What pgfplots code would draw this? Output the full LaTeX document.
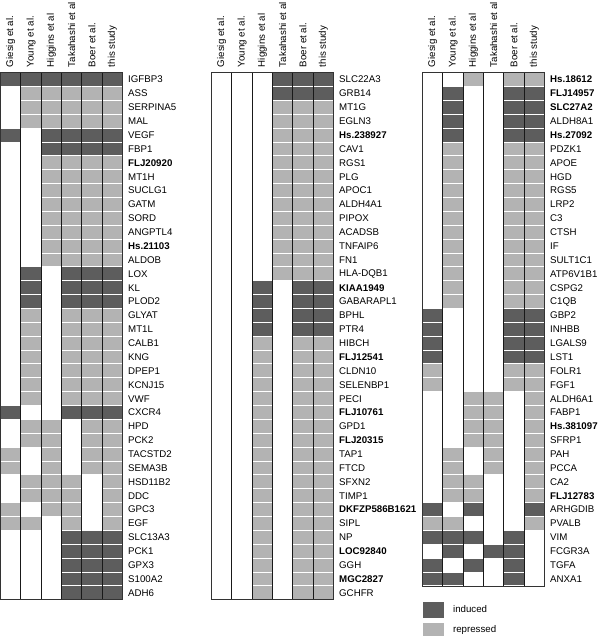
\documentclass[border=0pt]{standalone}
\usepackage{fontspec}
\setmainfont{Liberation Sans}
\usepackage{pgfplots}
\usepackage{pgfplotstable}
\pgfplotsset{compat=1.18}

\definecolor{dk}{RGB}{93,93,93}
\definecolor{lt}{RGB}{179,179,179}

% one cell of the grid: 6 columns of 20.33pt, rows of 13.87pt,
% a little narrower/shorter so the column lines and row gaps stay visible
\pgfdeclareplotmark{cell}{%
  \pgfpathrectangle{\pgfpoint{-9.75pt}{-6.43pt}}{\pgfpoint{19.5pt}{12.87pt}}%
  \pgfusepathqfill}

% 0 = not reported, 1 = induced, 2 = repressed
\pgfplotstableread{
gene G Y H T B S
IGFBP3 1 1 1 1 1 1
ASS 0 2 2 2 2 2
SERPINA5 0 2 2 2 2 2
MAL 0 2 2 2 2 2
VEGF 1 0 1 1 1 1
FBP1 0 0 1 1 1 1
\textbf{FLJ20920} 0 0 2 2 2 2
MT1H 0 0 2 2 2 2
SUCLG1 0 0 2 2 2 2
GATM 0 0 2 2 2 2
SORD 0 0 2 2 2 2
ANGPTL4 0 0 2 2 2 2
\textbf{Hs.21103} 0 0 2 2 2 2
ALDOB 0 0 2 2 2 2
LOX 0 1 0 1 1 1
KL 0 1 0 1 1 1
PLOD2 0 1 0 1 1 1
GLYAT 0 2 0 2 2 2
MT1L 0 2 0 2 2 2
CALB1 0 2 0 2 2 2
KNG 0 2 0 2 2 2
DPEP1 0 2 0 2 2 2
KCNJ15 0 2 0 2 2 2
VWF 0 2 0 2 2 2
CXCR4 1 0 0 1 1 1
HPD 0 2 2 0 2 2
PCK2 0 2 2 0 2 2
TACSTD2 2 0 2 0 2 2
SEMA3B 2 0 2 0 2 2
HSD11B2 0 2 2 2 0 2
DDC 0 2 2 2 0 2
GPC3 2 0 2 2 0 2
EGF 2 2 0 2 0 2
SLC13A3 0 0 0 1 1 1
PCK1 0 0 0 1 1 1
GPX3 0 0 0 1 1 1
S100A2 0 0 0 1 1 1
ADH6 0 0 0 1 1 1
}\tabA

\pgfplotstableread{
gene G Y H T B S
SLC22A3 0 0 0 1 1 1
GRB14 0 0 0 1 1 1
MT1G 0 0 0 2 2 2
EGLN3 0 0 0 2 2 2
\textbf{Hs.238927} 0 0 0 2 2 2
CAV1 0 0 0 2 2 2
RGS1 0 0 0 2 2 2
PLG 0 0 0 2 2 2
APOC1 0 0 0 2 2 2
ALDH4A1 0 0 0 2 2 2
PIPOX 0 0 0 2 2 2
ACADSB 0 0 0 2 2 2
TNFAIP6 0 0 0 2 2 2
FN1 0 0 0 2 2 2
HLA-DQB1 0 0 0 2 2 2
\textbf{KIAA1949} 0 0 1 0 1 1
GABARAPL1 0 0 1 0 1 1
BPHL 0 0 1 0 1 1
PTR4 0 0 1 0 1 1
HIBCH 0 0 2 0 2 2
\textbf{FLJ12541} 0 0 2 0 2 2
CLDN10 0 0 2 0 2 2
SELENBP1 0 0 2 0 2 2
PECI 0 0 2 0 2 2
\textbf{FLJ10761} 0 0 2 0 2 2
GPD1 0 0 2 0 2 2
\textbf{FLJ20315} 0 0 2 0 2 2
TAP1 0 0 2 0 2 2
FTCD 0 0 2 0 2 2
SFXN2 0 0 2 0 2 2
TIMP1 0 0 2 0 2 2
\textbf{DKFZP586B1621} 0 0 2 0 2 2
SIPL 0 0 2 0 2 2
NP 0 0 2 0 2 2
\textbf{LOC92840} 0 0 2 0 2 2
GGH 0 0 2 0 2 2
\textbf{MGC2827} 0 0 2 0 2 2
GCHFR 0 0 2 0 2 2
}\tabB

\pgfplotstableread{
gene G Y H T B S
\textbf{Hs.18612} 0 0 2 0 2 2
\textbf{FLJ14957} 0 1 0 0 1 1
\textbf{SLC27A2} 0 1 0 0 1 1
ALDH8A1 0 1 0 0 1 1
\textbf{Hs.27092} 0 1 0 0 1 1
PDZK1 0 2 0 0 2 2
APOE 0 2 0 0 2 2
HGD 0 2 0 0 2 2
RGS5 0 2 0 0 2 2
LRP2 0 2 0 0 2 2
C3 0 2 0 0 2 2
CTSH 0 2 0 0 2 2
IF 0 2 0 0 2 2
SULT1C1 0 2 0 0 2 2
ATP6V1B1 0 2 0 0 2 2
CSPG2 0 2 0 0 2 2
C1QB 0 2 0 0 2 2
GBP2 1 0 0 0 1 1
INHBB 1 0 0 0 1 1
LGALS9 1 0 0 0 1 1
LST1 1 0 0 0 1 1
FOLR1 2 0 0 0 2 2
FGF1 2 0 0 0 2 2
ALDH6A1 0 0 2 2 0 2
FABP1 0 0 2 2 0 2
\textbf{Hs.381097} 0 0 2 2 0 2
SFRP1 0 0 2 2 0 2
PAH 0 2 0 2 0 2
PCCA 0 2 0 2 0 2
CA2 0 2 2 0 0 2
\textbf{FLJ12783} 0 2 2 0 0 2
ARHGDIB 1 0 1 0 0 1
PVALB 2 2 0 0 0 2
VIM 1 1 1 0 1 0
FCGR3A 0 1 0 1 1 0
TGFA 1 0 1 0 1 0
ANXA1 1 1 0 0 1 0
}\tabC

\pgfplotsset{
  panel/.style={
    scale only axis, width=122pt, anchor=north west,
    xmin=-0.5, xmax=5.5, y dir=reverse,
    xtick={0,...,5},
    xticklabels={Giesig et al., Young et al., Higgins et al, Takahashi et al, Boer et al., this study},
    xticklabel pos=upper,
    x tick label style={rotate=90, anchor=west, inner sep=0pt},
    xticklabel shift=5.5pt,
    yticklabel pos=right,
    y tick label style={anchor=west, inner sep=0pt},
    yticklabel shift=5.5pt,
    major tick length=0pt, minor tick length=0pt,
    minor xtick={0.5,1.5,...,4.5},
    xminorgrids,
    minor grid style={black!90, line width=0.8pt},
    axis line style={black!80, line width=0.8pt},
    tick label style={font=\fontsize{9.7}{11}\selectfont},
  },
  cellplot/.style={scatter, only marks, mark=cell, forget plot,
    scatter src=explicit symbolic,
    scatter/classes={0={white}, 1={dk}, 2={lt}}},
}

\begin{document}
\begin{tikzpicture}
\useasboundingbox (0pt,0pt) rectangle (600pt,-636pt);

\begin{axis}[panel, at={(0.5pt,-72.7pt)}, height=527.1pt,
    ymin=-0.5, ymax=37.5, ytick={0,...,37},
    yticklabels from table={\tabA}{gene}]
\pgfplotsinvokeforeach{1,...,6}{
  \addplot[cellplot] table[x expr={#1-1}, y expr=\coordindex, meta index=#1] {\tabA};
}
\end{axis}

\begin{axis}[panel, at={(211.5pt,-72.7pt)}, height=527.1pt,
    ymin=-0.5, ymax=37.5, ytick={0,...,37},
    yticklabels from table={\tabB}{gene}]
\pgfplotsinvokeforeach{1,...,6}{
  \addplot[cellplot] table[x expr={#1-1}, y expr=\coordindex, meta index=#1] {\tabB};
}
\end{axis}

\begin{axis}[panel, at={(422.5pt,-72.7pt)}, height=513.2pt,
    ymin=-0.5, ymax=36.5, ytick={0,...,36},
    yticklabels from table={\tabC}{gene},
    legend style={at={(0,-0.0316)}, anchor=north west, draw=none, fill=none,
      inner sep=0pt, row sep=5.7pt, column sep=8pt,
      font=\fontsize{9.7}{11}\selectfont},
    legend cell align=left,
    legend image code/.code={\fill[#1] (0pt,-7.1pt) rectangle (20pt,7.1pt);}]
\pgfplotsinvokeforeach{1,...,6}{
  \addplot[cellplot] table[x expr={#1-1}, y expr=\coordindex, meta index=#1] {\tabC};
}
\addlegendimage{dk}
\addlegendentry{induced}
\addlegendimage{lt}
\addlegendentry{repressed}
\end{axis}
\end{tikzpicture}
\end{document}
